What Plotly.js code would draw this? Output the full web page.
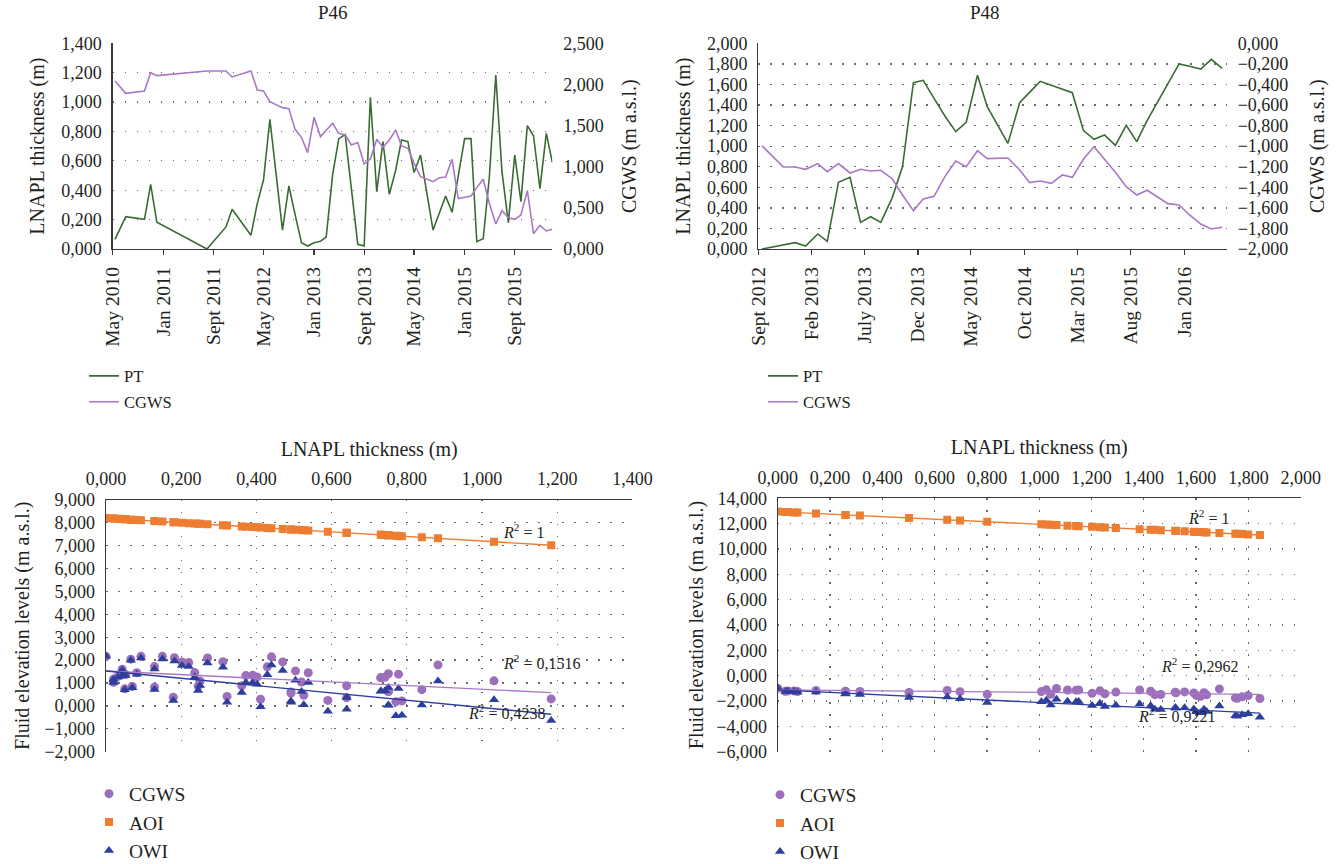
<!DOCTYPE html>
<html><head><meta charset="utf-8">
<script src="https://cdn.plot.ly/plotly-3.0.1.min.js"></script>
<style>html,body{margin:0;padding:0;background:#fff}#chart{width:1339px;height:864px}</style>
</head><body><div id="chart"></div>
<script>
// ---------- P46 ----------
const p46Dates = ['2010-05-12','2010-07-03','2010-10-02','2010-11-01','2010-12-01','2011-08-01','2011-11-01','2011-12-01',
'2012-03-01','2012-04-01','2012-05-01','2012-06-01','2012-08-01','2012-09-01','2012-10-01','2012-11-01','2012-12-01',
'2013-01-01','2013-02-01','2013-03-01','2013-04-01','2013-05-01','2013-06-01','2013-07-01','2013-08-01','2013-09-01','2013-10-01','2013-11-01','2013-12-01',
'2014-01-01','2014-02-01','2014-03-01','2014-04-01','2014-05-01','2014-06-01','2014-08-01','2014-09-01','2014-10-01','2014-11-01','2014-12-01',
'2015-01-01','2015-02-01','2015-03-01','2015-04-01','2015-05-01','2015-06-01','2015-07-01','2015-08-01','2015-09-01','2015-10-01','2015-11-01','2015-12-01',
'2016-01-01','2016-02-01','2016-03-01'];
const p46PT = [0.066,0.220,0.202,0.440,0.182,0.000,0.150,0.270,
0.093,0.311,0.470,0.883,0.129,0.429,0.236,0.043,0.020,
0.043,0.052,0.082,0.504,0.751,0.778,0.402,0.032,0.020,1.032,0.390,0.731,
0.372,0.538,0.742,0.731,0.520,0.640,0.129,0.245,0.361,0.250,0.492,
0.751,0.751,0.050,0.070,0.492,1.184,0.526,0.179,0.640,0.322,0.840,0.771,
0.411,0.787,0.590];
const p46CGWS = [2.042,1.892,1.921,2.143,2.107,2.164,2.164,2.091,
2.164,1.933,1.921,1.791,1.718,1.706,1.455,1.357,1.171,
1.601,1.366,1.447,1.528,1.406,1.386,1.264,1.293,1.033,1.094,1.333,1.236,
1.325,1.447,1.252,1.224,1.041,0.879,0.818,0.867,0.875,1.090,0.612,
0.624,0.644,0.746,0.847,0.555,0.304,0.466,0.381,0.361,0.413,0.709,0.186,
0.288,0.219,0.239];
const p46AOI = [8.134,7.980,7.998,7.760,8.018,8.200,8.050,7.930,
8.107,7.889,7.730,7.317,8.071,7.771,7.964,8.157,8.180,
8.157,8.148,8.118,7.696,7.449,7.422,7.798,8.168,8.180,7.168,7.810,7.469,
7.828,7.662,7.458,7.469,7.680,7.560,8.071,7.955,7.839,7.950,7.708,
7.449,7.449,8.150,8.130,7.708,7.016,7.674,8.021,7.560,7.878,7.360,7.429,
7.789,7.413,7.610];
const p46OWI = [1.989,1.716,1.759,1.791,1.961,2.164,2.044,1.875,
2.090,1.684,1.545,1.085,1.615,1.363,1.266,1.323,1.155,
1.567,1.324,1.381,1.125,0.805,0.764,0.942,1.267,1.017,0.268,1.021,0.651,
1.027,1.017,0.658,0.639,0.625,0.367,0.715,0.671,0.586,0.890,0.218,
0.023,0.043,0.706,0.791,0.161,-0.643,0.045,0.238,-0.151,0.155,0.037,-0.431,
-0.041,-0.411,-0.233];
const p46TickDates = ['2010-05-01','2011-01-01','2011-09-01','2012-05-01','2013-01-01','2013-09-01','2014-05-01','2015-01-01','2015-09-01'];
const p46TickText = ['May 2010','Jan 2011','Sept 2011','May 2012','Jan 2013','Sept 2013','May 2014','Jan 2015','Sept 2015'];
const p46R2Text = ['1','0,1516','0,4238']; // AOI, CGWS, OWI

// ---------- P48 ----------
const p48Dates = ['2012-09-12','2012-11-11','2012-12-15','2013-01-14','2013-02-18','2013-03-17','2013-04-18','2013-05-21',
'2013-06-20','2013-07-19','2013-08-17','2013-09-19','2013-10-18','2013-11-18','2013-12-16','2014-01-16','2014-02-16',
'2014-03-19','2014-04-18','2014-05-20','2014-06-17','2014-08-15','2014-09-18','2014-10-16','2014-11-15','2014-12-17',
'2015-01-18','2015-02-15','2015-03-19','2015-04-18','2015-05-18','2015-06-18','2015-07-19','2015-08-18','2015-09-17',
'2015-10-18','2015-11-15','2015-12-17','2016-01-16','2016-02-17','2016-03-18','2016-04-18'];
const p48PT = [0.000,0.039,0.062,0.029,0.146,0.075,0.648,0.697,
0.259,0.314,0.259,0.502,0.801,1.617,1.640,1.465,1.293,
1.141,1.232,1.689,1.384,1.027,1.426,1.523,1.630,1.591,
1.556,1.520,1.151,1.066,1.108,1.008,1.202,1.044,1.251,
1.442,1.601,1.799,1.776,1.750,1.844,1.757];
const p48CGWS = [-0.998,-1.202,-1.202,-1.225,-1.170,-1.248,-1.170,-1.261,
-1.225,-1.241,-1.235,-1.319,-1.475,-1.627,-1.514,-1.488,-1.296,
-1.144,-1.199,-1.044,-1.121,-1.115,-1.232,-1.355,-1.339,-1.361,
-1.280,-1.303,-1.125,-1.005,-1.128,-1.254,-1.394,-1.475,-1.429,
-1.497,-1.559,-1.572,-1.669,-1.757,-1.805,-1.789];
const p48AOI = [12.950,12.911,12.888,12.921,12.804,12.875,12.302,12.253,
12.691,12.636,12.691,12.448,12.149,11.333,11.310,11.485,11.657,
11.809,11.718,11.261,11.566,11.923,11.524,11.427,11.320,11.359,
11.394,11.430,11.799,11.884,11.842,11.942,11.748,11.906,11.699,
11.508,11.349,11.151,11.174,11.200,11.106,11.193];
const p48OWI = [-0.998,-1.233,-1.252,-1.248,-1.287,-1.308,-1.688,-1.819,
-1.432,-1.492,-1.442,-1.721,-2.116,-2.921,-2.826,-2.660,-2.330,
-2.057,-2.185,-2.395,-2.228,-1.937,-2.373,-2.573,-2.643,-2.634,
-2.525,-2.519,-2.046,-1.858,-2.014,-2.060,-2.356,-2.310,-2.430,
-2.651,-2.840,-3.011,-3.090,-3.157,-3.280,-3.195];
const p48TickDates = ['2012-09-01','2013-02-01','2013-07-01','2013-12-01','2014-05-01','2014-10-01','2015-03-01','2015-08-01','2016-01-01'];
const p48TickText = ['Sept 2012','Feb 2013','July 2013','Dec 2013','May 2014','Oct 2014','Mar 2015','Aug 2015','Jan 2016'];
const p48R2Text = ['1','0,2962','0,9221'];

const seriesNames = ['PT','CGWS','AOI','OWI'];

// ---------- styling ----------
const FONT = "'Liberation Serif', 'Times New Roman', serif";
const TXT = '#231f20';
const GREEN = '#3b6b35', PURPLE = '#a878c6', PURPLE_M = '#9c6fba', ORANGE = '#ed7d31', BLUE = '#2e3e9c';
const AX = '#3a3a3a', GRID = '#6a6a6a', DASH = '1.5px,10.5px';
const W = 1339, H = 864;
const px = v => v / W, py = v => 1 - v / H;

function trend(xs, ys) {
  const n = xs.length;
  let mx = 0, my = 0;
  for (let i = 0; i < n; i++) { mx += xs[i]; my += ys[i]; }
  mx /= n; my /= n;
  let sxy = 0, sxx = 0;
  for (let i = 0; i < n; i++) { sxy += (xs[i]-mx)*(ys[i]-my); sxx += (xs[i]-mx)*(xs[i]-mx); }
  const b = sxy / sxx, a = my - b * mx;
  const x0 = Math.min(...xs), x1 = Math.max(...xs);
  return {x: [x0, x1], y: [a + b*x0, a + b*x1]};
}

const traces = [];
// top-left time series
traces.push({x: p46Dates, y: p46PT, xaxis:'x', yaxis:'y', mode:'lines', name: seriesNames[0], line:{color:GREEN, width:1.6}, legend:'legend', legendgroup:'a1'});
traces.push({x: p46Dates, y: p46CGWS, xaxis:'x', yaxis:'y2', mode:'lines', name: seriesNames[1], line:{color:PURPLE, width:1.6}, legend:'legend', legendgroup:'a2'});
// top-right time series
traces.push({x: p48Dates, y: p48PT, xaxis:'x2', yaxis:'y3', mode:'lines', name: seriesNames[0], line:{color:GREEN, width:1.6}, legend:'legend2', legendgroup:'b1'});
traces.push({x: p48Dates, y: p48CGWS, xaxis:'x2', yaxis:'y4', mode:'lines', name: seriesNames[1], line:{color:PURPLE, width:1.6}, legend:'legend2', legendgroup:'b2'});

function scatterSet(xs, cg, aoi, owi, xa, ya, leg) {
  traces.push({x: xs, y: cg, xaxis:xa, yaxis:ya, mode:'markers', name: seriesNames[1], marker:{symbol:'circle', size:9, color:PURPLE_M}, legend:leg});
  traces.push({x: xs, y: aoi, xaxis:xa, yaxis:ya, mode:'markers', name: seriesNames[2], marker:{symbol:'square', size:8, color:ORANGE}, legend:leg});
  traces.push({x: xs, y: owi, xaxis:xa, yaxis:ya, mode:'markers', name: seriesNames[3], marker:{symbol:'triangle-up', size:9, color:BLUE}, legend:leg});
  const tc = trend(xs, cg), ta = trend(xs, aoi), to = trend(xs, owi);
  traces.push({x: ta.x, y: ta.y, xaxis:xa, yaxis:ya, mode:'lines', line:{color:ORANGE, width:1.4}, showlegend:false, hoverinfo:'skip'});
  traces.push({x: tc.x, y: tc.y, xaxis:xa, yaxis:ya, mode:'lines', line:{color:PURPLE, width:1.4}, showlegend:false, hoverinfo:'skip'});
  traces.push({x: to.x, y: to.y, xaxis:xa, yaxis:ya, mode:'lines', line:{color:BLUE, width:1.4}, showlegend:false, hoverinfo:'skip'});
}
scatterSet(p46PT, p46CGWS, p46AOI, p46OWI, 'x3', 'y5', 'legend3');
scatterSet(p48PT, p48CGWS, p48AOI, p48OWI, 'x4', 'y6', 'legend4');

const tickF = {family: FONT, size: 18, color: TXT};
const titleF = {family: FONT, size: 20, color: TXT};
const yLeft = (dom, anchor, range, dtick, title, standoff) => ({
  domain: dom, anchor: anchor, range: range, dtick: dtick, tick0: 0, tickformat: '.3f',
  showline: true, linecolor: AX, linewidth: 1.3, ticks: '', showgrid: true, gridcolor: GRID, gridwidth: 1.3, griddash: DASH,
  zeroline: false, tickfont: tickF, ticklabelstandoff: 6,
  title: {text: title, font: titleF, standoff: standoff}
});
const yRight = (ov, anchor, range, dtick, title, standoff) => ({
  overlaying: ov, side: 'right', anchor: anchor, range: range, dtick: dtick, tick0: 0, tickformat: '.3f',
  showline: false, ticks: '', showgrid: false, zeroline: false, tickfont: tickF, ticklabelstandoff: 10,
  title: {text: title, font: titleF, standoff: standoff}
});
const xDate = (dom, anchor, range, tv, tt) => ({
  domain: dom, anchor: anchor, type: 'date', range: range, tickvals: tv, ticktext: tt, tickangle: -90,
  ticks: 'outside', ticklen: 5, tickcolor: AX, tickwidth: 1.2, showline: true, linecolor: AX, linewidth: 1.3,
  showgrid: false, zeroline: false, tickfont: {family: FONT, size: 19.5, color: TXT}, ticklabelstandoff: 4
});
const xTop = (dom, anchor, range) => ({
  domain: dom, anchor: anchor, side: 'top', range: range, dtick: 0.2, tick0: 0, tickformat: '.3f',
  showline: true, linecolor: AX, linewidth: 1.3, ticks: '', showgrid: true, gridcolor: GRID, gridwidth: 1.3, griddash: DASH,
  zeroline: false, tickfont: tickF, ticklabelstandoff: 6,
  title: {text: 'LNAPL thickness (m)', font: titleF, standoff: 7}
});

const topY = [py(249), py(43.3)];
const botY = [py(751.7), py(499.8)];
const botY2 = [py(751.7), py(498.3)];

const legendBase = (x, y, size, gap) => ({x: x, y: y, xanchor: 'left', yanchor: 'top', bgcolor: 'rgba(0,0,0,0)',
  font: {family: FONT, size: size, color: TXT}, tracegroupgap: gap, orientation: 'v'});

const r2 = (t) => '<i>R</i><sup>2</sup> = ' + t;
const annF = {family: FONT, size: 16, color: TXT};
const layout = {
  width: W, height: H, margin: {l: 0, r: 0, t: 0, b: 0, autoexpand: false}, paper_bgcolor: '#fff', plot_bgcolor: '#fff',
  separators: ',.', font: {family: FONT, color: TXT}, showlegend: true,
  xaxis: xDate([px(112.7), px(552.3)], 'y', ['2010-05-01', '2016-03-01'], p46TickDates, p46TickText),
  yaxis: yLeft(topY, 'x', [0, 1.4], 0.2, 'LNAPL thickness (m)', 11),
  yaxis2: yRight('y', 'x', [0, 2.5], 0.5, 'CGWS (m a.s.l.)', 19),
  xaxis2: xDate([px(758.3), px(1226.7)], 'y3', ['2012-09-01', '2016-05-01'], p48TickDates, p48TickText),
  yaxis3: yLeft(topY, 'x2', [0, 2.0], 0.2, 'LNAPL thickness (m)', 11),
  yaxis4: yRight('y3', 'x2', [-2.0, 0], 0.2, 'CGWS (m a.s.l.)', 22),
  xaxis3: xTop([px(106), px(632.4)], 'y5', [0, 1.4]),
  yaxis5: yLeft(botY, 'x3', [-2, 9], 1, 'Fluid elevation levels (m a.s.l.)', 9),
  xaxis4: xTop([px(777.8), px(1300.7)], 'y6', [0, 2.0]),
  yaxis6: yLeft(botY2, 'x4', [-6, 14], 2, 'Fluid elevation levels (m a.s.l.)', 7),
  legend: legendBase(px(84), py(358.6), 16.5, 1.5),
  legend2: legendBase(px(763), py(358.6), 16.5, 1.5),
  legend3: legendBase(px(89), py(774.5), 19.5, 0),
  legend4: legendBase(px(760), py(775.5), 19.5, 0),
  annotations: [
    {text: 'P46', xref: 'paper', yref: 'paper', x: px(332.5), y: py(13), xanchor: 'center', yanchor: 'middle', showarrow: false, font: {family: FONT, size: 19, color: TXT}},
    {text: 'P48', xref: 'paper', yref: 'paper', x: px(985), y: py(13), xanchor: 'center', yanchor: 'middle', showarrow: false, font: {family: FONT, size: 19, color: TXT}},
    {text: r2(p46R2Text[0]), xref: 'paper', yref: 'paper', x: px(523), y: py(531), showarrow: false, font: annF},
    {text: r2(p46R2Text[1]), xref: 'paper', yref: 'paper', x: px(541), y: py(674), showarrow: false, font: annF},
    {text: r2(p46R2Text[2]), xref: 'paper', yref: 'paper', x: px(506), y: py(724), showarrow: false, font: annF},
    {text: r2(p48R2Text[0]), xref: 'paper', yref: 'paper', x: px(1231), y: py(517), showarrow: false, font: annF},
    {text: r2(p48R2Text[1]), xref: 'paper', yref: 'paper', x: px(1240), y: py(677), showarrow: false, font: annF},
    {text: r2(p48R2Text[2]), xref: 'paper', yref: 'paper', x: px(1217), y: py(727), showarrow: false, font: annF}
  ]
};

Plotly.newPlot('chart', traces, layout, {staticPlot: true, displayModeBar: false});
</script>
</body></html>
